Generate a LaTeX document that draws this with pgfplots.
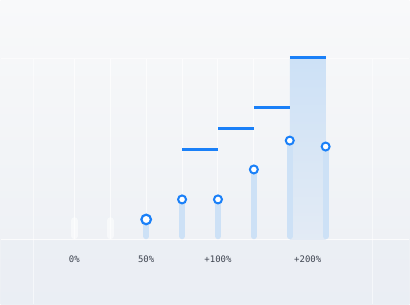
\documentclass[border=0pt]{standalone}
\usepackage{pgfplots}
\pgfplotsset{compat=1.18}
\usepackage{fontspec}
\setmonofont{DejaVu Sans Mono}
\definecolor{accent}{HTML}{1A80F8}
\definecolor{barblue}{HTML}{CDE1F6}
\definecolor{bgtop}{HTML}{F8F9FA}
\definecolor{bgbot}{HTML}{ECEFF4}
\definecolor{lowbg}{HTML}{EAEEF4}
\definecolor{labelc}{HTML}{3E4450}
\begin{document}
\begin{tikzpicture}
\begin{axis}[
  width=410pt, height=305pt, scale only axis,
  xmin=-2.0556, xmax=9.3333,
  ymin=-35.91, ymax=132.6,
  axis on top=true,
  axis line style={draw=none},
  tick style={draw=none},
  ytick=\empty,
  xtick={0,2,4,6.5},
  xticklabels={\texttt{0\%},\texttt{50\%},\texttt{+100\%},\texttt{+200\%}},
  x tick label style={anchor=center, yshift=45pt, font=\fontsize{9}{10}\selectfont\ttfamily, text=labelc},
  axis background/.style={shade, top color=bgtop, bottom color=bgbot},
  clip=false,
  unbounded coords=jump,
]
% lower region
\addplot[draw=none, fill=lowbg, fill opacity=0.6] coordinates {(-2.0556,-35.91) (9.3333,-35.91) (9.3333,0) (-2.0556,0)} -- cycle;
% frame lines
\addplot[white, line width=1.2pt, opacity=0.6] coordinates {(-2.0556,100) (9.3333,100)};
\addplot[white, line width=1.2pt, opacity=0.8] coordinates {(-2.0556,0) (9.3333,0)};
\addplot[white, line width=1.2pt, opacity=0.55] coordinates {(-1.139,100) (-1.139,-35.91)};
\addplot[white, line width=1.2pt, opacity=0.55] coordinates {(8.306,100) (8.306,-35.91)};
% highlighted band
\addplot[draw=none, top color=barblue, bottom color=barblue!30!bgbot] coordinates {(6,0) (6,100) (7,100) (7,0)} -- cycle;
% thin guide lines
\addplot[white, line width=1pt, opacity=0.7] coordinates {(0,0) (0,100) (1,nan) (1,0) (1,100) (2,nan) (2,0) (2,100) (3,nan) (3,0) (3,100) (4,nan) (4,0) (4,100) (5,nan) (5,0) (5,100)};
% white stubs
\addplot[white, line width=7pt, line cap=round, opacity=0.55] coordinates {(0,2.0) (0,10.3) (1,nan) (1,2.0) (1,10.3)};
% blue stems
\addplot[barblue, line width=6pt, line cap=round] coordinates {(2,1.7) (2,11.0) (3,nan) (3,1.7) (3,22.1) (4,nan) (4,1.7) (4,22.1) (5,nan) (5,1.7) (5,38.7) (6,nan) (6,1.7) (6,54.7) (7,nan) (7,1.7) (7,51.4)};
% steps
\addplot[accent, line width=3pt] coordinates {(3,49.7) (4,49.7) (4,nan) (4,61.3) (5,61.3) (5,nan) (5,72.9) (6,72.9) (6,nan) (6,100.6) (7,100.6)};
% markers
\addplot[only marks, mark=*, mark size=4.8pt, mark options={fill=white, draw=accent, line width=2.2pt}] coordinates {(2,11.0)};
\addplot[only marks, mark=*, mark size=4pt, mark options={fill=white, draw=accent, line width=2pt}] coordinates {(3,22.1) (4,22.1) (5,38.7) (6,54.7) (7,51.4)};
\end{axis}
\end{tikzpicture}
\end{document}
